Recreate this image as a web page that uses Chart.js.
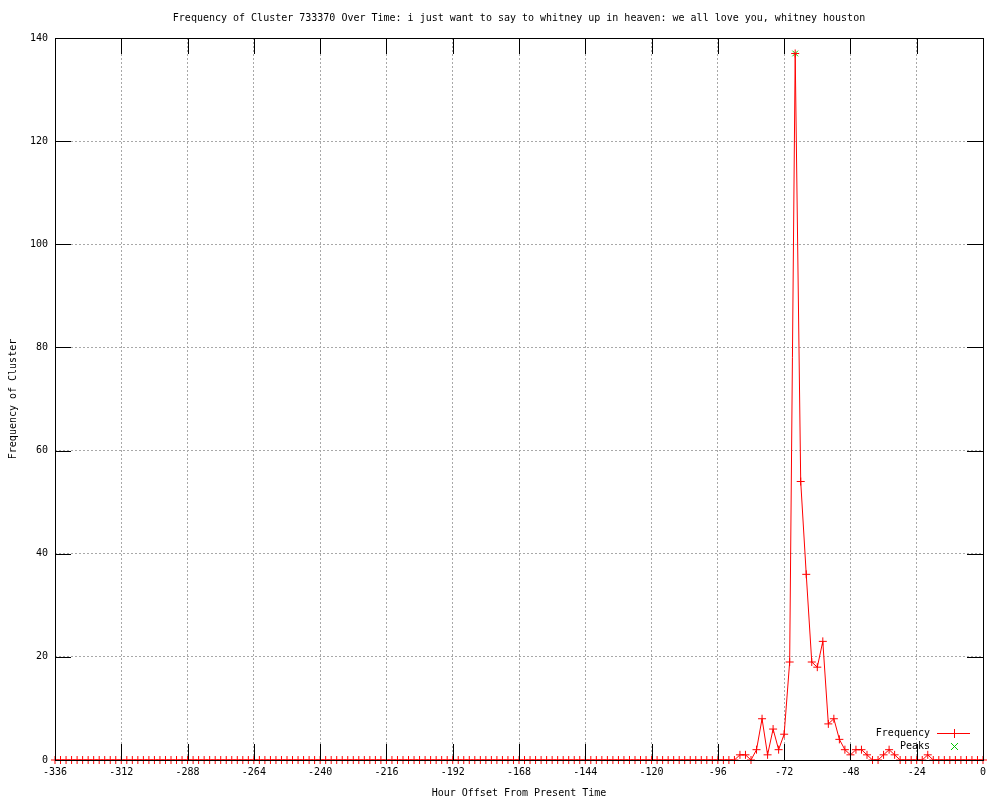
<!DOCTYPE html>
<html>
<head>
<meta charset="utf-8">
<title>Frequency of Cluster 733370</title>
<script src="https://cdn.jsdelivr.net/npm/chart.js"></script>
<style>
    body { margin: 0; background: #fff; }
    #wrap { position: relative; width: 1000px; height: 800px; }
</style>
</head>
<body>
<div id="wrap"><canvas id="chart"></canvas></div>
<script>
// hours before now, one sample every 2 hours
const hours = Array.from({ length: 169 }, (_, i) => -336 + 2 * i);

const frequency = [
    0, 0, 0, 0, 0, 0, 0, 0, 0, 0,
    0, 0, 0, 0, 0, 0, 0, 0, 0, 0,
    0, 0, 0, 0, 0, 0, 0, 0, 0, 0,
    0, 0, 0, 0, 0, 0, 0, 0, 0, 0,
    0, 0, 0, 0, 0, 0, 0, 0, 0, 0,
    0, 0, 0, 0, 0, 0, 0, 0, 0, 0,
    0, 0, 0, 0, 0, 0, 0, 0, 0, 0,
    0, 0, 0, 0, 0, 0, 0, 0, 0, 0,
    0, 0, 0, 0, 0, 0, 0, 0, 0, 0,
    0, 0, 0, 0, 0, 0, 0, 0, 0, 0,
    0, 0, 0, 0, 0, 0, 0, 0, 0, 0,
    0, 0, 0, 0, 0, 0, 0, 0, 0, 0,
    0, 0, 0, 0,
    1, 1, 0, 2, 8, 1, 6, 2, 5, 19,       // -88 .. -70
    137, 54, 36, 19, 18, 23, 7, 8, 4, 2, // -68 .. -50
    1, 2, 2, 1, 0, 0, 1, 2, 1, 0,        // -48 .. -30
    0, 0, 0, 0, 1,                       // -28 .. -20
    0, 0, 0, 0, 0, 0, 0, 0, 0, 0         // -18 .. 0
];

const peakHours = [-68];
const peakValues = [137];

const chartTitle = "Frequency of Cluster 733370 Over Time: i just want to say to whitney up in heaven: we all love you, whitney houston";
const xTitle = "Hour Offset From Present Time";
const yTitle = "Frequency of Cluster";
const legendLabels = ["Frequency", "Peaks"];

const FONT = "'DejaVu Sans Mono', 'Liberation Mono', monospace";
const RED = "#ff0000";
const GREEN = "#00c800";

// gnuplot style box: black frame, inward ticks on all four sides, legend bottom right
const gnuplotFrame = {
    id: "gnuplotFrame",
    afterDatasetsDraw(chart) {
        const ctx = chart.ctx;
        const a = chart.chartArea;
        const x = chart.scales.x;
        const y = chart.scales.y;
        const tic = 16;

        ctx.save();
        ctx.strokeStyle = "#000";
        ctx.lineWidth = 1;
        ctx.beginPath();

        x.ticks.forEach(t => {
            const px = Math.round(x.getPixelForValue(t.value)) + 0.5;
            ctx.moveTo(px, a.bottom);
            ctx.lineTo(px, a.bottom - tic);
            ctx.moveTo(px, a.top);
            ctx.lineTo(px, a.top + tic);
        });
        y.ticks.forEach(t => {
            const py = Math.round(y.getPixelForValue(t.value)) + 0.5;
            ctx.moveTo(a.left, py);
            ctx.lineTo(a.left + tic, py);
            ctx.moveTo(a.right, py);
            ctx.lineTo(a.right - tic, py);
        });
        ctx.stroke();

        ctx.strokeRect(Math.round(a.left) + 0.5, Math.round(a.top) + 0.5,
            Math.round(a.right - a.left), Math.round(a.bottom - a.top));

        // legend
        const textRight = a.right - 53;
        const sampleX = a.right - 29;
        const rows = [a.bottom - 27, a.bottom - 14];
        ctx.font = "10px " + FONT;
        ctx.fillStyle = "#000";
        ctx.textAlign = "right";
        ctx.textBaseline = "middle";
        ctx.fillText(legendLabels[0], textRight, rows[0]);
        ctx.fillText(legendLabels[1], textRight, rows[1]);

        ctx.strokeStyle = RED;
        ctx.beginPath();
        ctx.moveTo(sampleX - 17, rows[0] + 0.5);
        ctx.lineTo(sampleX + 16, rows[0] + 0.5);
        ctx.moveTo(sampleX + 0.5, rows[0] - 4);
        ctx.lineTo(sampleX + 0.5, rows[0] + 5);
        ctx.stroke();

        ctx.strokeStyle = GREEN;
        ctx.beginPath();
        ctx.moveTo(sampleX - 3, rows[1] - 3);
        ctx.lineTo(sampleX + 4, rows[1] + 4);
        ctx.moveTo(sampleX + 4, rows[1] - 3);
        ctx.lineTo(sampleX - 3, rows[1] + 4);
        ctx.stroke();
        ctx.restore();
    }
};

// no grid line on the frame itself
function gridColor(ctx) {
    const scale = ctx.scale;
    if (!ctx.tick) return "rgba(0,0,0,0)";
    const v = ctx.tick.value;
    return (v === scale.min || v === scale.max) ? "rgba(0,0,0,0)" : "#a8a8a8";
}

new Chart(document.getElementById("chart"), {
    type: "line",
    data: {
        datasets: [
            {
                label: legendLabels[0],
                data: hours.map((h, i) => ({ x: h, y: frequency[i] })),
                borderColor: RED,
                borderWidth: 1,
                pointStyle: "cross",
                pointRadius: 4,
                pointBorderColor: RED,
                pointBorderWidth: 1,
                pointHoverRadius: 4,
                tension: 0,
                fill: false,
                clip: false
            },
            {
                label: legendLabels[1],
                data: peakHours.map((h, i) => ({ x: h, y: peakValues[i] })),
                showLine: false,
                pointStyle: "crossRot",
                pointRadius: 4,
                pointBorderColor: GREEN,
                pointBorderWidth: 1,
                clip: false
            }
        ]
    },
    options: {
        responsive: true,
        maintainAspectRatio: false,
        animation: false,
        events: [],
        layout: { padding: { top: 0, right: 17, bottom: 0, left: 0 } },
        plugins: {
            legend: { display: false },
            tooltip: { enabled: false },
            title: {
                display: true,
                fullSize: false,
                text: chartTitle,
                color: "#000",
                font: { family: FONT, size: 10, weight: "normal", lineHeight: 1.2 },
                padding: { top: 12, bottom: 14 }
            }
        },
        scales: {
            x: {
                type: "linear",
                min: -336,
                max: 0,
                ticks: {
                    stepSize: 24,
                    color: "#000",
                    padding: 6,
                    maxRotation: 0,
                    autoSkip: false,
                    font: { family: FONT, size: 10 }
                },
                grid: { color: gridColor, drawTicks: false, lineWidth: 1 },
                border: { display: false, dash: [2, 2] },
                title: {
                    display: true,
                    text: xTitle,
                    color: "#000",
                    font: { family: FONT, size: 10 },
                    padding: { top: 0, bottom: 1 }
                },
                afterFit(scale) { scale.height = 40; }
            },
            y: {
                min: 0,
                max: 140,
                ticks: {
                    stepSize: 20,
                    color: "#000",
                    padding: 7,
                    font: { family: FONT, size: 10 }
                },
                grid: { color: gridColor, drawTicks: false, lineWidth: 1 },
                border: { display: false, dash: [2, 2] },
                title: {
                    display: true,
                    text: yTitle,
                    color: "#000",
                    font: { family: FONT, size: 10 },
                    padding: { top: 7, bottom: 0 }
                },
                afterFit(scale) { scale.width = 55; }
            }
        }
    },
    plugins: [gnuplotFrame]
});
</script>
</body>
</html>
